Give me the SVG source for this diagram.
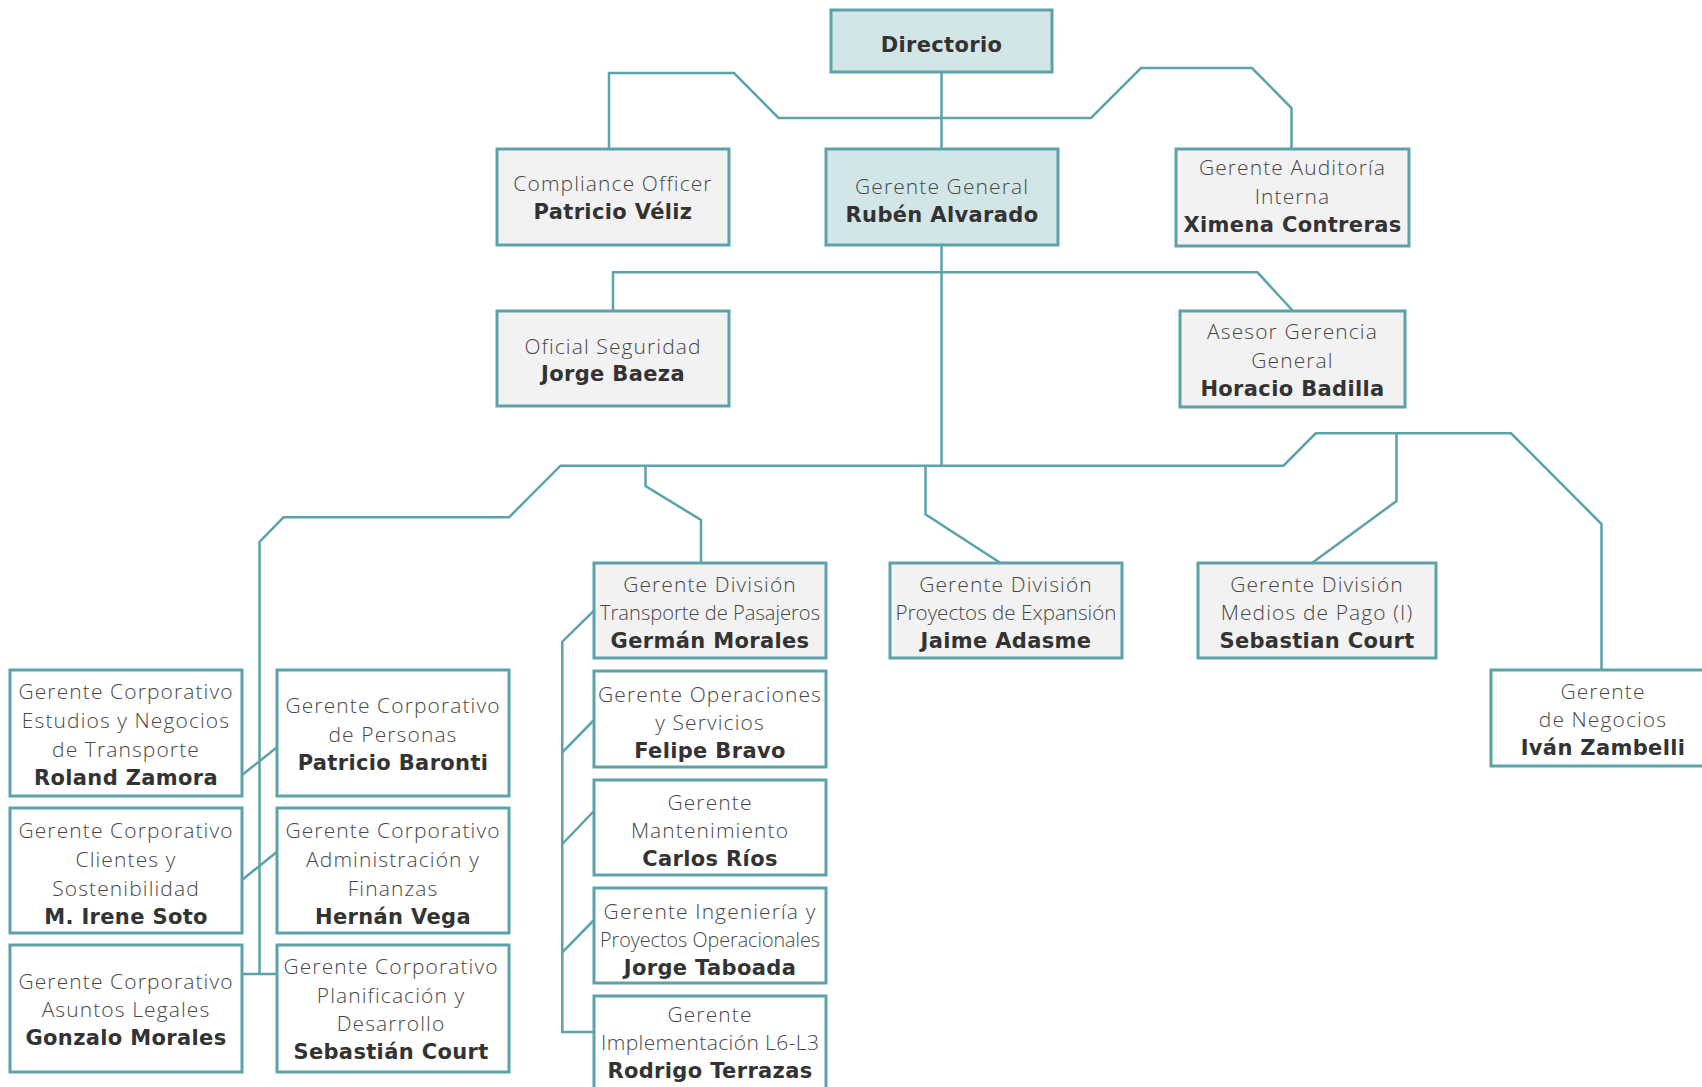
<svg xmlns="http://www.w3.org/2000/svg" width="1702" height="1087" viewBox="0 0 1702 1087">
<style>
.box{stroke:#5ba3a8;stroke-width:3}
.g{fill:#f2f2f2}
.t{fill:#d3e6e7}
.w{fill:#ffffff}
#connectors path{fill:none;stroke:#5ba3a8;stroke-width:2.5;stroke-linejoin:miter}
text{font-family:"Open Sans","Liberation Sans",sans-serif;text-anchor:middle;font-size:21px}
.l{font-weight:300;fill:#474747;letter-spacing:1.1px}
.b{font-family:"DejaVu Sans","Liberation Sans",sans-serif;font-weight:700;fill:#333333;letter-spacing:0.35px}
.c{font-weight:300;fill:#474747}
</style>
<rect width="1702" height="1087" fill="#ffffff"/>
<g id="connectors">
<path d="M941.5 72 V149"/>
<path d="M609 149 V73 H734 L778.5 118 H1091 L1141 68 H1252 L1291.5 108 V149"/>
<path d="M941.5 245 V466"/>
<path d="M613 311 V272.3 H1257.4 L1293 311"/>
<path d="M259.5 974 V542 L283.5 517.3 H509 L560.5 465.7 H1283.5 L1315.7 433.3 H1511 L1601.5 524 V670"/>
<path d="M242 974 H277"/>
<path d="M645.5 465.7 V486 L701 520 V563"/>
<path d="M925.5 465.7 V514.3 L1000.5 563"/>
<path d="M1396.5 433.3 V501 L1312 563"/>
<path d="M242 775 L277 747.3"/>
<path d="M242 880 L277 851.7"/>
<path d="M594 610.7 L562.3 641.7 V1032 H594"/>
<path d="M594 720 L562.3 752.3"/>
<path d="M594 811 L562.3 844"/>
<path d="M594 920 L562.3 952.3"/>
</g>
<g id="directorio">
<rect class="box t" x="831" y="10" width="221" height="62"/>
<text class="b" x="941.5" y="52">Directorio</text>
</g>
<g id="compliance">
<rect class="box g" x="497" y="149" width="232" height="96"/>
<text class="l" x="613" y="191">Compliance Officer</text>
<text class="b" x="613" y="218.5">Patricio Véliz</text>
</g>
<g id="gerente-general">
<rect class="box t" x="826" y="149" width="232" height="96"/>
<text class="l" x="942" y="194">Gerente General</text>
<text class="b" x="942" y="222">Rubén Alvarado</text>
</g>
<g id="auditoria">
<rect class="box g" x="1176" y="149" width="233" height="97"/>
<text class="l" x="1292.5" y="175">Gerente Auditoría</text>
<text class="l" x="1292.5" y="204">Interna</text>
<text class="b" x="1292.5" y="232">Ximena Contreras</text>
</g>
<g id="seguridad">
<rect class="box g" x="497" y="311" width="232" height="95"/>
<text class="l" x="613" y="354">Oficial Seguridad</text>
<text class="b" x="613" y="381">Jorge Baeza</text>
</g>
<g id="asesor">
<rect class="box g" x="1180" y="311" width="225" height="96"/>
<text class="l" x="1292.5" y="339">Asesor Gerencia</text>
<text class="l" x="1292.5" y="368">General</text>
<text class="b" x="1292.5" y="396">Horacio Badilla</text>
</g>
<g id="div-pasajeros">
<rect class="box g" x="594" y="563" width="232" height="95"/>
<text class="l" x="710" y="592">Gerente División</text>
<text class="c" x="710" y="620" textLength="220" lengthAdjust="spacingAndGlyphs">Transporte de Pasajeros</text>
<text class="b" x="710" y="647.5">Germán Morales</text>
</g>
<g id="div-expansion">
<rect class="box g" x="890" y="563" width="232" height="95"/>
<text class="l" x="1006" y="592">Gerente División</text>
<text class="c" x="1006" y="620" textLength="221" lengthAdjust="spacingAndGlyphs">Proyectos de Expansión</text>
<text class="b" x="1006" y="648">Jaime Adasme</text>
</g>
<g id="div-pago">
<rect class="box g" x="1198" y="563" width="238" height="95"/>
<text class="l" x="1317" y="592">Gerente División</text>
<text class="l" x="1317" y="620">Medios de Pago (I)</text>
<text class="b" x="1317" y="647.5">Sebastian Court</text>
</g>
<g id="negocios">
<rect class="box w" x="1491" y="670" width="230" height="96"/>
<text class="l" x="1603" y="699">Gerente</text>
<text class="l" x="1603" y="727">de Negocios</text>
<text class="b" x="1603" y="755">Iván Zambelli</text>
</g>
<g id="operaciones">
<rect class="box w" x="594" y="671" width="232" height="96"/>
<text class="l" x="710" y="702">Gerente Operaciones</text>
<text class="l" x="710" y="730">y Servicios</text>
<text class="b" x="710" y="758">Felipe Bravo</text>
</g>
<g id="mantenimiento">
<rect class="box w" x="594" y="780" width="232" height="95"/>
<text class="l" x="710" y="810">Gerente</text>
<text class="l" x="710" y="838">Mantenimiento</text>
<text class="b" x="710" y="866">Carlos Ríos</text>
</g>
<g id="ingenieria">
<rect class="box w" x="594" y="888" width="232" height="95"/>
<text class="l" x="710" y="919">Gerente Ingeniería y</text>
<text class="c" x="710" y="947" textLength="220" lengthAdjust="spacingAndGlyphs">Proyectos Operacionales</text>
<text class="b" x="710" y="974.5">Jorge Taboada</text>
</g>
<g id="implementacion">
<rect class="box w" x="594" y="996" width="232" height="100"/>
<text class="l" x="710" y="1022">Gerente</text>
<text class="c" x="710" y="1050" textLength="218" lengthAdjust="spacing">Implementación L6-L3</text>
<text class="b" x="710" y="1078">Rodrigo Terrazas</text>
</g>
<g id="estudios">
<rect class="box w" x="10" y="670" width="232" height="126"/>
<text class="l" x="126" y="699">Gerente Corporativo</text>
<text class="l" x="126" y="728">Estudios y Negocios</text>
<text class="l" x="126" y="757">de Transporte</text>
<text class="b" x="126" y="785">Roland Zamora</text>
</g>
<g id="personas">
<rect class="box w" x="277" y="670" width="232" height="126"/>
<text class="l" x="393" y="713">Gerente Corporativo</text>
<text class="l" x="393" y="742">de Personas</text>
<text class="b" x="393" y="770">Patricio Baronti</text>
</g>
<g id="clientes">
<rect class="box w" x="10" y="808" width="232" height="125"/>
<text class="l" x="126" y="838">Gerente Corporativo</text>
<text class="l" x="126" y="867">Clientes y</text>
<text class="l" x="126" y="896">Sostenibilidad</text>
<text class="b" x="126" y="924">M. Irene Soto</text>
</g>
<g id="administracion">
<rect class="box w" x="277" y="808" width="232" height="125"/>
<text class="l" x="393" y="838">Gerente Corporativo</text>
<text class="l" x="393" y="867">Administración y</text>
<text class="l" x="393" y="896">Finanzas</text>
<text class="b" x="393" y="924">Hernán Vega</text>
</g>
<g id="legales">
<rect class="box w" x="10" y="945" width="232" height="127"/>
<text class="l" x="126" y="989">Gerente Corporativo</text>
<text class="l" x="126" y="1017">Asuntos Legales</text>
<text class="b" x="126" y="1045">Gonzalo Morales</text>
</g>
<g id="planificacion">
<rect class="box w" x="277" y="945" width="232" height="127"/>
<text class="l" x="391" y="974">Gerente Corporativo</text>
<text class="l" x="391" y="1003">Planificación y</text>
<text class="l" x="391" y="1031">Desarrollo</text>
<text class="b" x="391" y="1059">Sebastián Court</text>
</g>
</svg>
